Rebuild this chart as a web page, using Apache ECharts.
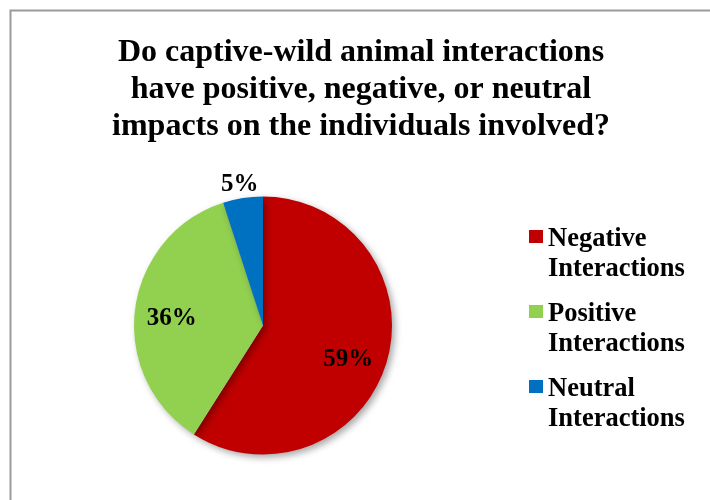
<!DOCTYPE html>
<html>
<head>
<meta charset="utf-8">
<script src="https://cdn.jsdelivr.net/npm/echarts@6/dist/echarts.min.js"></script>
<style>
  html, body { margin: 0; padding: 0; background: #fff; }
  #chart { width: 710px; height: 500px; }
</style>
</head>
<body>
<div id="chart"></div>
<script>
// Survey answers: share of responses per interaction type
const categories = ['Negative Interactions', 'Positive Interactions', 'Neutral Interactions'];
const shares = [59, 36, 5];
const sliceColors = ['#C00000', '#92D050', '#0070C0'];
const titleText = 'Do captive-wild animal interactions\nhave positive, negative, or neutral\nimpacts on the individuals involved?';

const serif = "'Times New Roman', 'Liberation Serif', serif";
const center = [263, 325.5];
const radius = 129;

// legend marker: a square at the top of a taller (invisible) box,
// so it lines up with the first line of a two-line legend entry
const legendIcon = 'path://M0 0H14V13H0Z M0 49L0.01 49Z';

const labelFont = {
  fontFamily: serif,
  fontWeight: 'bold',
  fontSize: 25,
  color: '#000'
};

const chart = echarts.init(document.getElementById('chart'), null, { renderer: 'canvas' });

const pieData = categories.map((name, i) => ({
  name: name,
  value: shares[i],
  itemStyle: { color: sliceColors[i] }
}));

// transparent rings used only to place the value labels at the right distance
const innerLabelData = categories.map((name, i) => ({
  name: name,
  value: shares[i],
  itemStyle: { color: 'rgba(0,0,0,0)' },
  label: { show: i !== 2 }
}));
const outerLabelData = categories.map((name, i) => ({
  name: name,
  value: shares[i],
  itemStyle: { color: 'rgba(0,0,0,0)' },
  label: { show: i === 2 }
}));

const labelRing = (radii, data, nudge) => ({
  type: 'pie',
  center: center,
  radius: radii,
  startAngle: 90,
  clockwise: true,
  silent: true,
  data: data,
  label: Object.assign({ position: 'inside', formatter: '{c}%' }, labelFont),
  labelLine: { show: false },
  labelLayout: nudge,
  emphasis: { disabled: true }
});

chart.setOption({
  backgroundColor: '#ffffff',
  animation: false,
  title: {
    text: titleText,
    left: 361,
    top: 34,
    padding: 0,
    textAlign: 'center',
    textStyle: {
      fontFamily: serif,
      fontWeight: 'bold',
      fontSize: 32,
      lineHeight: 37,
      color: '#000'
    }
  },
  legend: {
    orient: 'vertical',
    left: 529,
    top: 224.5,
    padding: 0,
    itemWidth: 14,
    itemHeight: 49,
    itemGap: 15,
    icon: legendIcon,
    selectedMode: false,
    data: categories,
    formatter: name => name.replace(' ', '\n'),
    textStyle: {
      fontFamily: serif,
      fontWeight: 'bold',
      fontSize: 26.5,
      lineHeight: 30,
      color: '#000'
    }
  },
  graphic: [{
    type: 'rect',
    silent: true,
    shape: { x: 10.5, y: 10.5, width: 720, height: 520 },
    style: { fill: null, stroke: '#9a9a9a', lineWidth: 2 }
  }],
  series: [{
    type: 'pie',
    center: center,
    radius: [0, radius],
    startAngle: 90,
    clockwise: true,
    silent: true,
    data: pieData,
    itemStyle: {
      shadowBlur: 7,
      shadowOffsetX: 3,
      shadowOffsetY: 3,
      shadowColor: 'rgba(0,0,0,0.35)'
    },
    label: { show: false },
    labelLine: { show: false }
  },
  labelRing([49, radius], innerLabelData,
    p => (p.dataIndex === 0 ? { dx: -3, dy: 8 } : { dy: 5 })),
  labelRing([135, 155], outerLabelData, () => ({ dy: 5 }))]
});
</script>
</body>
</html>
